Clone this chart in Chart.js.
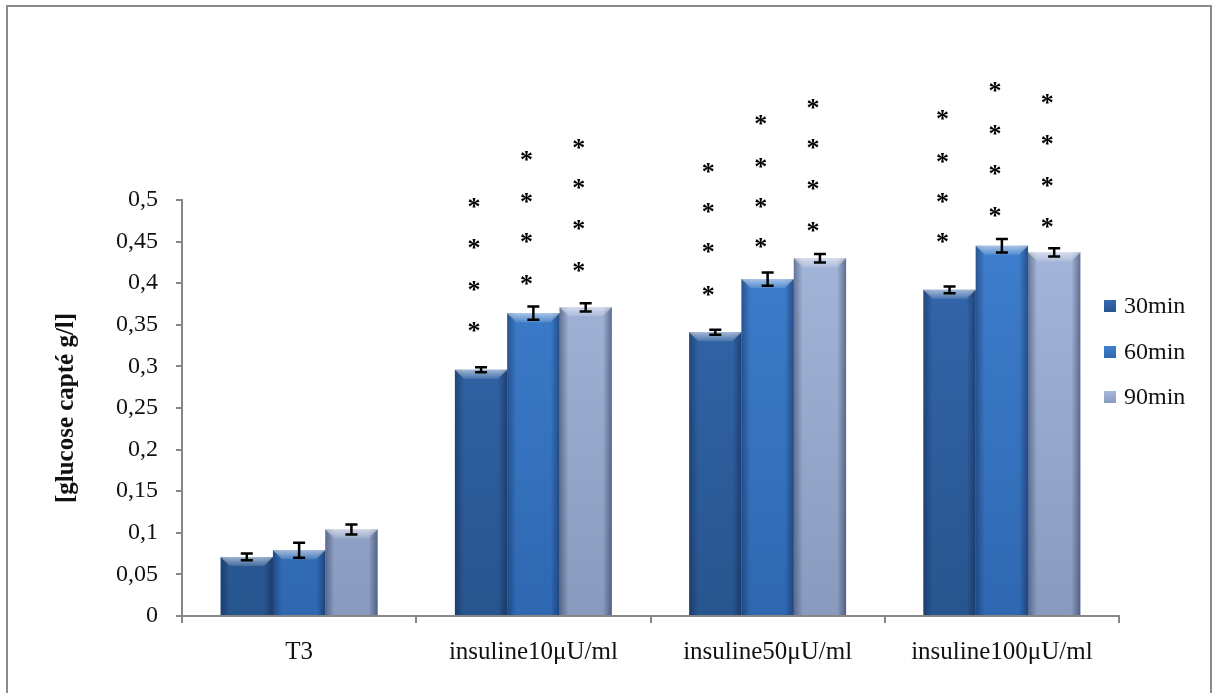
<!DOCTYPE html>
<html>
<head>
<meta charset="utf-8">
<script src="https://cdn.jsdelivr.net/npm/chart.js@4/dist/chart.umd.min.js"></script>
<style>
    html, body { margin: 0; padding: 0; background: #fff; }
    #wrap { width: 1217px; height: 693px; position: relative; }
</style>
</head>
<body>
<div id="wrap"><canvas id="glucose"></canvas></div>
<script>
// glucose uptake per condition and incubation time
var categories = ['T3', 'insuline10μU/ml', 'insuline50μU/ml', 'insuline100μU/ml'];
var seriesLabels = ['30min', '60min', '90min'];

var glucose30 = [0.071, 0.296, 0.341, 0.392];
var glucose60 = [0.079, 0.364, 0.405, 0.445];
var glucose90 = [0.104, 0.371, 0.430, 0.437];

var err30 = [0.004, 0.003, 0.003, 0.004];
var err60 = [0.009, 0.008, 0.008, 0.008];
var err90 = [0.006, 0.005, 0.005, 0.005];

// significance stars, heights in g/l
var stars30 = [[], [0.349, 0.398, 0.448, 0.497], [0.392, 0.443, 0.492, 0.540], [0.455, 0.504, 0.552, 0.603]];
var stars60 = [[], [0.405, 0.455, 0.504, 0.554], [0.449, 0.497, 0.546, 0.597], [0.487, 0.537, 0.585, 0.637]];
var stars90 = [[], [0.421, 0.471, 0.520, 0.569], [0.469, 0.519, 0.568, 0.617], [0.474, 0.523, 0.573, 0.622]];

var yTicks = [0, 0.05, 0.1, 0.15, 0.2, 0.25, 0.3, 0.35, 0.4, 0.45, 0.5];

var SERIF = "'Liberation Serif', 'Times New Roman', serif";
var AXIS_GREY = '#868686';

// top / bottom colours of each series
var shades = [
    ['#3568b0', '#27558e'],
    ['#3f80cf', '#2f68b1'],
    ['#a6b8db', '#899abf']
];

function barFill(i) {
    return function (context) {
        var chart = context.chart;
        var area = chart.chartArea;
        if (!area) {
            return shades[i][0];
        }
        var g = chart.ctx.createLinearGradient(0, area.top, 0, area.bottom);
        g.addColorStop(0, shades[i][0]);
        g.addColorStop(1, shades[i][1]);
        return g;
    };
}

var errors = [err30, err60, err90];
var stars = [stars30, stars60, stars90];

// outer frame
var framePlugin = {
    id: 'frame',
    beforeDraw: function (chart) {
        var c = chart.ctx;
        c.save();
        c.fillStyle = '#fff';
        c.fillRect(0, 0, chart.width, chart.height);
        c.strokeStyle = '#8c8c8c';
        c.lineWidth = 2;
        c.beginPath();
        c.moveTo(7, chart.height);
        c.lineTo(7, 6);
        c.lineTo(chart.width - 6, 6);
        c.lineTo(chart.width - 6, chart.height);
        c.stroke();
        c.restore();
    }
};

// soft bevel on each bar: light top chamfer, darker sides
var bevelPlugin = {
    id: 'bevel',
    afterDatasetsDraw: function (chart) {
        var c = chart.ctx;
        c.save();
        chart.data.datasets.forEach(function (ds, i) {
            chart.getDatasetMeta(i).data.forEach(function (bar) {
                var w = bar.width;
                var l = bar.x - w / 2, r = bar.x + w / 2;
                var t = bar.y, b = bar.base;
                var bv = Math.min(9, (b - t) / 2);

                var gl = c.createLinearGradient(l, 0, l + 9, 0);
                gl.addColorStop(0, 'rgba(10,25,60,0.40)');
                gl.addColorStop(1, 'rgba(10,25,60,0)');
                c.fillStyle = gl;
                c.fillRect(l, t, 9, b - t);

                var gr = c.createLinearGradient(r - 9, 0, r, 0);
                gr.addColorStop(0, 'rgba(10,25,60,0)');
                gr.addColorStop(1, 'rgba(10,25,60,0.45)');
                c.fillStyle = gr;
                c.fillRect(r - 9, t, 9, b - t);

                var gt = c.createLinearGradient(0, t, 0, t + bv);
                gt.addColorStop(0, 'rgba(255,255,255,0.55)');
                gt.addColorStop(1, 'rgba(255,255,255,0.12)');
                c.fillStyle = gt;
                c.beginPath();
                c.moveTo(l, t);
                c.lineTo(r, t);
                c.lineTo(r - bv, t + bv);
                c.lineTo(l + bv, t + bv);
                c.closePath();
                c.fill();
            });
        });
        c.restore();
    }
};

// error bars and stars
var marksPlugin = {
    id: 'marks',
    afterDatasetsDraw: function (chart) {
        var c = chart.ctx;
        var y = chart.scales.y;
        c.save();
        chart.data.datasets.forEach(function (ds, i) {
            chart.getDatasetMeta(i).data.forEach(function (bar, j) {
                var v = ds.data[j];
                var e = errors[i][j];
                var yTop = y.getPixelForValue(v + e);
                var yBot = y.getPixelForValue(v - e);
                c.strokeStyle = '#000';
                c.lineWidth = 2.5;
                c.beginPath();
                c.moveTo(bar.x, yTop);
                c.lineTo(bar.x, yBot);
                c.moveTo(bar.x - 6, yTop);
                c.lineTo(bar.x + 6, yTop);
                c.moveTo(bar.x - 6, yBot);
                c.lineTo(bar.x + 6, yBot);
                c.stroke();

                c.fillStyle = '#000';
                c.font = 'bold 26px ' + SERIF;
                c.textAlign = 'center';
                c.textBaseline = 'alphabetic';
                stars[i][j].forEach(function (s) {
                    c.fillText('*', bar.x - 7, y.getPixelForValue(s) + 13);
                });
            });
        });
        c.restore();
    }
};

// legend at the right edge, overlapping the plot margin
var legendPlugin = {
    id: 'sideLegend',
    afterDraw: function (chart) {
        var c = chart.ctx;
        var rows = [306, 352, 397];
        c.save();
        c.font = '24px ' + SERIF;
        c.textBaseline = 'middle';
        c.textAlign = 'left';
        chart.data.datasets.forEach(function (ds, i) {
            var g = c.createLinearGradient(0, rows[i] - 6, 0, rows[i] + 6);
            g.addColorStop(0, shades[i][0]);
            g.addColorStop(1, shades[i][1]);
            c.fillStyle = g;
            c.fillRect(1104, rows[i] - 6, 12, 12);
            c.fillStyle = '#111';
            c.fillText(ds.label, 1124, rows[i] + 1);
        });
        c.restore();
    }
};

var seriesData = [glucose30, glucose60, glucose90];
var datasets = seriesLabels.map(function (label, i) {
    return {
        label: label,
        data: seriesData[i],
        backgroundColor: barFill(i),
        borderWidth: 0,
        categoryPercentage: 0.67,
        barPercentage: 1.0
    };
});

var chart = new Chart(document.getElementById('glucose'), {
    type: 'bar',
    data: {
        labels: categories,
        datasets: datasets
    },
    options: {
        responsive: true,
        maintainAspectRatio: false,
        animation: false,
        layout: {
            padding: { left: 10, right: 98, top: 200, bottom: 0 }
        },
        plugins: {
            legend: { display: false },
            tooltip: { enabled: false }
        },
        scales: {
            x: {
                afterFit: function (scale) { scale.height = 77; },
                grid: {
                    offset: true,
                    drawOnChartArea: false,
                    drawTicks: true,
                    tickLength: 7,
                    color: AXIS_GREY,
                    lineWidth: 2
                },
                border: { display: true, color: AXIS_GREY, width: 2 },
                ticks: {
                    color: '#111',
                    padding: 14,
                    maxRotation: 0,
                    autoSkip: false,
                    font: { family: SERIF, size: 25 }
                }
            },
            y: {
                min: 0,
                max: 0.5,
                afterFit: function (scale) { scale.width = 172; },
                afterBuildTicks: function (scale) {
                    scale.ticks = yTicks.map(function (v) { return { value: v }; });
                },
                grid: {
                    drawOnChartArea: false,
                    drawTicks: true,
                    tickLength: 6,
                    color: AXIS_GREY,
                    lineWidth: 2
                },
                border: { display: true, color: AXIS_GREY, width: 2 },
                ticks: {
                    color: '#111',
                    padding: 18,
                    font: { family: SERIF, size: 24 },
                    callback: function (v) {
                        return String(Number(v.toFixed(2))).replace('.', ',');
                    }
                },
                title: {
                    display: true,
                    text: '[glucose capté g/l]',
                    color: '#111',
                    padding: { top: 42 },
                    font: { family: SERIF, size: 25, weight: 'bold' }
                }
            }
        }
    },
    plugins: [framePlugin, bevelPlugin, marksPlugin, legendPlugin]
});
</script>
</body>
</html>
